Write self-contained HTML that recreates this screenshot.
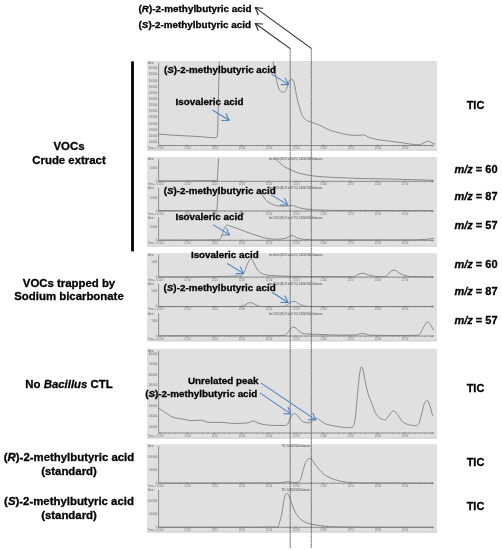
<!DOCTYPE html>
<html><head><meta charset="utf-8"><style>
html,body{margin:0;padding:0;background:#fff;}
body{width:502px;height:550px;overflow:hidden;}
svg{display:block;font-family:"Liberation Sans", sans-serif;will-change:transform;}
</style></head><body>
<svg width="502" height="550" viewBox="0 0 502 550">
<rect x="147" y="61" width="290" height="89.5" fill="#e0e0e0"/>
<rect x="147" y="149.5" width="290" height="1" fill="#cdcdcd"/>
<line x1="158.6" y1="63" x2="158.6" y2="145.5" stroke="#7a7a7a" stroke-width="0.8"/>
<line x1="158.6" y1="145.5" x2="434" y2="145.5" stroke="#8c8c8c" stroke-width="1.0"/>
<line x1="158.6" y1="145.9" x2="434" y2="145.9" stroke="#777" stroke-width="0.7" stroke-dasharray="0.8 4.64"/>
<line x1="160.2" y1="144.5" x2="160.2" y2="146.9" stroke="#777" stroke-width="0.6"/>
<line x1="187.4" y1="144.5" x2="187.4" y2="146.9" stroke="#777" stroke-width="0.6"/>
<line x1="214.6" y1="144.5" x2="214.6" y2="146.9" stroke="#777" stroke-width="0.6"/>
<line x1="241.8" y1="144.5" x2="241.8" y2="146.9" stroke="#777" stroke-width="0.6"/>
<line x1="269.0" y1="144.5" x2="269.0" y2="146.9" stroke="#777" stroke-width="0.6"/>
<line x1="296.2" y1="144.5" x2="296.2" y2="146.9" stroke="#777" stroke-width="0.6"/>
<line x1="323.4" y1="144.5" x2="323.4" y2="146.9" stroke="#777" stroke-width="0.6"/>
<line x1="350.6" y1="144.5" x2="350.6" y2="146.9" stroke="#777" stroke-width="0.6"/>
<line x1="377.8" y1="144.5" x2="377.8" y2="146.9" stroke="#777" stroke-width="0.6"/>
<line x1="405.0" y1="144.5" x2="405.0" y2="146.9" stroke="#777" stroke-width="0.6"/>
<line x1="432.2" y1="144.5" x2="432.2" y2="146.9" stroke="#777" stroke-width="0.6"/>
<text x="148" y="64.0" font-size="2.6" text-anchor="start" fill="#707070">Abun</text>
<text x="157.29999999999998" y="69.2" font-size="2.6" text-anchor="end" fill="#707070">340000</text>
<line x1="157.6" y1="68.3" x2="158.6" y2="68.3" stroke="#888" stroke-width="0.5"/>
<text x="157.29999999999998" y="75.35000000000001" font-size="2.6" text-anchor="end" fill="#707070">320000</text>
<line x1="157.6" y1="74.45" x2="158.6" y2="74.45" stroke="#888" stroke-width="0.5"/>
<text x="157.29999999999998" y="81.5" font-size="2.6" text-anchor="end" fill="#707070">300000</text>
<line x1="157.6" y1="80.6" x2="158.6" y2="80.6" stroke="#888" stroke-width="0.5"/>
<text x="157.29999999999998" y="87.65" font-size="2.6" text-anchor="end" fill="#707070">280000</text>
<line x1="157.6" y1="86.75" x2="158.6" y2="86.75" stroke="#888" stroke-width="0.5"/>
<text x="157.29999999999998" y="93.80000000000001" font-size="2.6" text-anchor="end" fill="#707070">260000</text>
<line x1="157.6" y1="92.9" x2="158.6" y2="92.9" stroke="#888" stroke-width="0.5"/>
<text x="157.29999999999998" y="99.95" font-size="2.6" text-anchor="end" fill="#707070">240000</text>
<line x1="157.6" y1="99.05" x2="158.6" y2="99.05" stroke="#888" stroke-width="0.5"/>
<text x="157.29999999999998" y="106.10000000000001" font-size="2.6" text-anchor="end" fill="#707070">220000</text>
<line x1="157.6" y1="105.2" x2="158.6" y2="105.2" stroke="#888" stroke-width="0.5"/>
<text x="157.29999999999998" y="112.25" font-size="2.6" text-anchor="end" fill="#707070">200000</text>
<line x1="157.6" y1="111.35" x2="158.6" y2="111.35" stroke="#888" stroke-width="0.5"/>
<text x="157.29999999999998" y="118.4" font-size="2.6" text-anchor="end" fill="#707070">180000</text>
<line x1="157.6" y1="117.5" x2="158.6" y2="117.5" stroke="#888" stroke-width="0.5"/>
<text x="157.29999999999998" y="124.55000000000001" font-size="2.6" text-anchor="end" fill="#707070">160000</text>
<line x1="157.6" y1="123.65" x2="158.6" y2="123.65" stroke="#888" stroke-width="0.5"/>
<text x="157.29999999999998" y="130.70000000000002" font-size="2.6" text-anchor="end" fill="#707070">140000</text>
<line x1="157.6" y1="129.8" x2="158.6" y2="129.8" stroke="#888" stroke-width="0.5"/>
<text x="157.29999999999998" y="136.85" font-size="2.6" text-anchor="end" fill="#707070">120000</text>
<line x1="157.6" y1="135.95" x2="158.6" y2="135.95" stroke="#888" stroke-width="0.5"/>
<text x="157.29999999999998" y="143.00000000000003" font-size="2.6" text-anchor="end" fill="#707070">100000</text>
<line x1="157.6" y1="142.10000000000002" x2="158.6" y2="142.10000000000002" stroke="#888" stroke-width="0.5"/>
<text x="147.6" y="149.4" font-size="2.6" text-anchor="start" fill="#707070">Time--&gt;</text>
<text x="160.2" y="149.4" font-size="2.6" text-anchor="middle" fill="#707070">11.00</text>
<text x="187.39999999999998" y="149.4" font-size="2.6" text-anchor="middle" fill="#707070">11.10</text>
<text x="214.6" y="149.4" font-size="2.6" text-anchor="middle" fill="#707070">11.20</text>
<text x="241.79999999999998" y="149.4" font-size="2.6" text-anchor="middle" fill="#707070">11.30</text>
<text x="269.0" y="149.4" font-size="2.6" text-anchor="middle" fill="#707070">11.40</text>
<text x="296.2" y="149.4" font-size="2.6" text-anchor="middle" fill="#707070">11.50</text>
<text x="323.4" y="149.4" font-size="2.6" text-anchor="middle" fill="#707070">11.60</text>
<text x="350.6" y="149.4" font-size="2.6" text-anchor="middle" fill="#707070">11.70</text>
<text x="377.79999999999995" y="149.4" font-size="2.6" text-anchor="middle" fill="#707070">11.80</text>
<text x="405.0" y="149.4" font-size="2.6" text-anchor="middle" fill="#707070">11.90</text>
<rect x="147" y="157" width="290" height="89.5" fill="#e0e0e0"/>
<rect x="147" y="245.5" width="290" height="1" fill="#cdcdcd"/>
<line x1="158.6" y1="159" x2="158.6" y2="181.3" stroke="#7a7a7a" stroke-width="0.8"/>
<line x1="158.6" y1="181.3" x2="434" y2="181.3" stroke="#8c8c8c" stroke-width="1.0"/>
<line x1="158.6" y1="181.70000000000002" x2="434" y2="181.70000000000002" stroke="#777" stroke-width="0.7" stroke-dasharray="0.8 4.64"/>
<line x1="160.2" y1="180.3" x2="160.2" y2="182.70000000000002" stroke="#777" stroke-width="0.6"/>
<line x1="187.4" y1="180.3" x2="187.4" y2="182.70000000000002" stroke="#777" stroke-width="0.6"/>
<line x1="214.6" y1="180.3" x2="214.6" y2="182.70000000000002" stroke="#777" stroke-width="0.6"/>
<line x1="241.8" y1="180.3" x2="241.8" y2="182.70000000000002" stroke="#777" stroke-width="0.6"/>
<line x1="269.0" y1="180.3" x2="269.0" y2="182.70000000000002" stroke="#777" stroke-width="0.6"/>
<line x1="296.2" y1="180.3" x2="296.2" y2="182.70000000000002" stroke="#777" stroke-width="0.6"/>
<line x1="323.4" y1="180.3" x2="323.4" y2="182.70000000000002" stroke="#777" stroke-width="0.6"/>
<line x1="350.6" y1="180.3" x2="350.6" y2="182.70000000000002" stroke="#777" stroke-width="0.6"/>
<line x1="377.8" y1="180.3" x2="377.8" y2="182.70000000000002" stroke="#777" stroke-width="0.6"/>
<line x1="405.0" y1="180.3" x2="405.0" y2="182.70000000000002" stroke="#777" stroke-width="0.6"/>
<line x1="432.2" y1="180.3" x2="432.2" y2="182.70000000000002" stroke="#777" stroke-width="0.6"/>
<text x="148" y="160.0" font-size="2.6" text-anchor="start" fill="#707070">Abun</text>
<text x="157.29999999999998" y="169.1" font-size="2.6" text-anchor="end" fill="#707070">50000</text>
<line x1="157.6" y1="168.2" x2="158.6" y2="168.2" stroke="#888" stroke-width="0.5"/>
<text x="157.29999999999998" y="181.9" font-size="2.6" text-anchor="end" fill="#707070">0</text>
<line x1="157.6" y1="181" x2="158.6" y2="181" stroke="#888" stroke-width="0.5"/>
<text x="147.6" y="185.20000000000002" font-size="2.6" text-anchor="start" fill="#707070">Time--&gt;</text>
<text x="160.2" y="185.20000000000002" font-size="2.6" text-anchor="middle" fill="#707070">11.00</text>
<text x="187.39999999999998" y="185.20000000000002" font-size="2.6" text-anchor="middle" fill="#707070">11.10</text>
<text x="214.6" y="185.20000000000002" font-size="2.6" text-anchor="middle" fill="#707070">11.20</text>
<text x="241.79999999999998" y="185.20000000000002" font-size="2.6" text-anchor="middle" fill="#707070">11.30</text>
<text x="269.0" y="185.20000000000002" font-size="2.6" text-anchor="middle" fill="#707070">11.40</text>
<text x="296.2" y="185.20000000000002" font-size="2.6" text-anchor="middle" fill="#707070">11.50</text>
<text x="323.4" y="185.20000000000002" font-size="2.6" text-anchor="middle" fill="#707070">11.60</text>
<text x="350.6" y="185.20000000000002" font-size="2.6" text-anchor="middle" fill="#707070">11.70</text>
<text x="377.79999999999995" y="185.20000000000002" font-size="2.6" text-anchor="middle" fill="#707070">11.80</text>
<text x="405.0" y="185.20000000000002" font-size="2.6" text-anchor="middle" fill="#707070">11.90</text>
<text x="269" y="160.1" font-size="3" fill="#3a3a3a" textLength="53.4" lengthAdjust="spacingAndGlyphs">Ion 60.00 (59.70 to 60.70): 1405070013.data.ms</text>
<line x1="158.6" y1="188" x2="158.6" y2="211" stroke="#7a7a7a" stroke-width="0.8"/>
<line x1="158.6" y1="211" x2="434" y2="211" stroke="#8c8c8c" stroke-width="1.0"/>
<line x1="158.6" y1="211.4" x2="434" y2="211.4" stroke="#777" stroke-width="0.7" stroke-dasharray="0.8 4.64"/>
<line x1="160.2" y1="210.0" x2="160.2" y2="212.4" stroke="#777" stroke-width="0.6"/>
<line x1="187.4" y1="210.0" x2="187.4" y2="212.4" stroke="#777" stroke-width="0.6"/>
<line x1="214.6" y1="210.0" x2="214.6" y2="212.4" stroke="#777" stroke-width="0.6"/>
<line x1="241.8" y1="210.0" x2="241.8" y2="212.4" stroke="#777" stroke-width="0.6"/>
<line x1="269.0" y1="210.0" x2="269.0" y2="212.4" stroke="#777" stroke-width="0.6"/>
<line x1="296.2" y1="210.0" x2="296.2" y2="212.4" stroke="#777" stroke-width="0.6"/>
<line x1="323.4" y1="210.0" x2="323.4" y2="212.4" stroke="#777" stroke-width="0.6"/>
<line x1="350.6" y1="210.0" x2="350.6" y2="212.4" stroke="#777" stroke-width="0.6"/>
<line x1="377.8" y1="210.0" x2="377.8" y2="212.4" stroke="#777" stroke-width="0.6"/>
<line x1="405.0" y1="210.0" x2="405.0" y2="212.4" stroke="#777" stroke-width="0.6"/>
<line x1="432.2" y1="210.0" x2="432.2" y2="212.4" stroke="#777" stroke-width="0.6"/>
<text x="148" y="189.0" font-size="2.6" text-anchor="start" fill="#707070">Abun</text>
<text x="157.29999999999998" y="198.5" font-size="2.6" text-anchor="end" fill="#707070">50000</text>
<line x1="157.6" y1="197.6" x2="158.6" y2="197.6" stroke="#888" stroke-width="0.5"/>
<text x="157.29999999999998" y="211.9" font-size="2.6" text-anchor="end" fill="#707070">0</text>
<line x1="157.6" y1="211" x2="158.6" y2="211" stroke="#888" stroke-width="0.5"/>
<text x="147.6" y="214.9" font-size="2.6" text-anchor="start" fill="#707070">Time--&gt;</text>
<text x="160.2" y="214.9" font-size="2.6" text-anchor="middle" fill="#707070">11.00</text>
<text x="187.39999999999998" y="214.9" font-size="2.6" text-anchor="middle" fill="#707070">11.10</text>
<text x="214.6" y="214.9" font-size="2.6" text-anchor="middle" fill="#707070">11.20</text>
<text x="241.79999999999998" y="214.9" font-size="2.6" text-anchor="middle" fill="#707070">11.30</text>
<text x="269.0" y="214.9" font-size="2.6" text-anchor="middle" fill="#707070">11.40</text>
<text x="296.2" y="214.9" font-size="2.6" text-anchor="middle" fill="#707070">11.50</text>
<text x="323.4" y="214.9" font-size="2.6" text-anchor="middle" fill="#707070">11.60</text>
<text x="350.6" y="214.9" font-size="2.6" text-anchor="middle" fill="#707070">11.70</text>
<text x="377.79999999999995" y="214.9" font-size="2.6" text-anchor="middle" fill="#707070">11.80</text>
<text x="405.0" y="214.9" font-size="2.6" text-anchor="middle" fill="#707070">11.90</text>
<text x="269" y="189.1" font-size="3" fill="#3a3a3a" textLength="53.4" lengthAdjust="spacingAndGlyphs">Ion 87.00 (86.70 to 87.70): 1405070013.data.ms</text>
<line x1="158.6" y1="217.5" x2="158.6" y2="240.3" stroke="#7a7a7a" stroke-width="0.8"/>
<line x1="158.6" y1="240.3" x2="434" y2="240.3" stroke="#8c8c8c" stroke-width="1.0"/>
<line x1="158.6" y1="240.70000000000002" x2="434" y2="240.70000000000002" stroke="#777" stroke-width="0.7" stroke-dasharray="0.8 4.64"/>
<line x1="160.2" y1="239.3" x2="160.2" y2="241.70000000000002" stroke="#777" stroke-width="0.6"/>
<line x1="187.4" y1="239.3" x2="187.4" y2="241.70000000000002" stroke="#777" stroke-width="0.6"/>
<line x1="214.6" y1="239.3" x2="214.6" y2="241.70000000000002" stroke="#777" stroke-width="0.6"/>
<line x1="241.8" y1="239.3" x2="241.8" y2="241.70000000000002" stroke="#777" stroke-width="0.6"/>
<line x1="269.0" y1="239.3" x2="269.0" y2="241.70000000000002" stroke="#777" stroke-width="0.6"/>
<line x1="296.2" y1="239.3" x2="296.2" y2="241.70000000000002" stroke="#777" stroke-width="0.6"/>
<line x1="323.4" y1="239.3" x2="323.4" y2="241.70000000000002" stroke="#777" stroke-width="0.6"/>
<line x1="350.6" y1="239.3" x2="350.6" y2="241.70000000000002" stroke="#777" stroke-width="0.6"/>
<line x1="377.8" y1="239.3" x2="377.8" y2="241.70000000000002" stroke="#777" stroke-width="0.6"/>
<line x1="405.0" y1="239.3" x2="405.0" y2="241.70000000000002" stroke="#777" stroke-width="0.6"/>
<line x1="432.2" y1="239.3" x2="432.2" y2="241.70000000000002" stroke="#777" stroke-width="0.6"/>
<text x="148" y="218.5" font-size="2.6" text-anchor="start" fill="#707070">Abun</text>
<text x="157.29999999999998" y="227.6" font-size="2.6" text-anchor="end" fill="#707070">50000</text>
<line x1="157.6" y1="226.7" x2="158.6" y2="226.7" stroke="#888" stroke-width="0.5"/>
<text x="157.29999999999998" y="241.20000000000002" font-size="2.6" text-anchor="end" fill="#707070">0</text>
<line x1="157.6" y1="240.3" x2="158.6" y2="240.3" stroke="#888" stroke-width="0.5"/>
<text x="147.6" y="244.20000000000002" font-size="2.6" text-anchor="start" fill="#707070">Time--&gt;</text>
<text x="160.2" y="244.20000000000002" font-size="2.6" text-anchor="middle" fill="#707070">11.00</text>
<text x="187.39999999999998" y="244.20000000000002" font-size="2.6" text-anchor="middle" fill="#707070">11.10</text>
<text x="214.6" y="244.20000000000002" font-size="2.6" text-anchor="middle" fill="#707070">11.20</text>
<text x="241.79999999999998" y="244.20000000000002" font-size="2.6" text-anchor="middle" fill="#707070">11.30</text>
<text x="269.0" y="244.20000000000002" font-size="2.6" text-anchor="middle" fill="#707070">11.40</text>
<text x="296.2" y="244.20000000000002" font-size="2.6" text-anchor="middle" fill="#707070">11.50</text>
<text x="323.4" y="244.20000000000002" font-size="2.6" text-anchor="middle" fill="#707070">11.60</text>
<text x="350.6" y="244.20000000000002" font-size="2.6" text-anchor="middle" fill="#707070">11.70</text>
<text x="377.79999999999995" y="244.20000000000002" font-size="2.6" text-anchor="middle" fill="#707070">11.80</text>
<text x="405.0" y="244.20000000000002" font-size="2.6" text-anchor="middle" fill="#707070">11.90</text>
<text x="269" y="218.6" font-size="3" fill="#3a3a3a" textLength="53.4" lengthAdjust="spacingAndGlyphs">Ion 57.00 (56.70 to 57.70): 1405070013.data.ms</text>
<rect x="147" y="253.1" width="290" height="88.20000000000002" fill="#e0e0e0"/>
<rect x="147" y="340.3" width="290" height="1" fill="#cdcdcd"/>
<line x1="158.6" y1="254.8" x2="158.6" y2="277.1" stroke="#7a7a7a" stroke-width="0.8"/>
<line x1="158.6" y1="277.1" x2="434" y2="277.1" stroke="#8c8c8c" stroke-width="1.0"/>
<line x1="158.6" y1="277.5" x2="434" y2="277.5" stroke="#777" stroke-width="0.7" stroke-dasharray="0.8 4.64"/>
<line x1="160.2" y1="276.1" x2="160.2" y2="278.5" stroke="#777" stroke-width="0.6"/>
<line x1="187.4" y1="276.1" x2="187.4" y2="278.5" stroke="#777" stroke-width="0.6"/>
<line x1="214.6" y1="276.1" x2="214.6" y2="278.5" stroke="#777" stroke-width="0.6"/>
<line x1="241.8" y1="276.1" x2="241.8" y2="278.5" stroke="#777" stroke-width="0.6"/>
<line x1="269.0" y1="276.1" x2="269.0" y2="278.5" stroke="#777" stroke-width="0.6"/>
<line x1="296.2" y1="276.1" x2="296.2" y2="278.5" stroke="#777" stroke-width="0.6"/>
<line x1="323.4" y1="276.1" x2="323.4" y2="278.5" stroke="#777" stroke-width="0.6"/>
<line x1="350.6" y1="276.1" x2="350.6" y2="278.5" stroke="#777" stroke-width="0.6"/>
<line x1="377.8" y1="276.1" x2="377.8" y2="278.5" stroke="#777" stroke-width="0.6"/>
<line x1="405.0" y1="276.1" x2="405.0" y2="278.5" stroke="#777" stroke-width="0.6"/>
<line x1="432.2" y1="276.1" x2="432.2" y2="278.5" stroke="#777" stroke-width="0.6"/>
<text x="148" y="255.8" font-size="2.6" text-anchor="start" fill="#707070">Abun</text>
<text x="157.29999999999998" y="262.5" font-size="2.6" text-anchor="end" fill="#707070">5000</text>
<line x1="157.6" y1="261.6" x2="158.6" y2="261.6" stroke="#888" stroke-width="0.5"/>
<text x="157.29999999999998" y="278.0" font-size="2.6" text-anchor="end" fill="#707070">0</text>
<line x1="157.6" y1="277.1" x2="158.6" y2="277.1" stroke="#888" stroke-width="0.5"/>
<text x="147.6" y="281.0" font-size="2.6" text-anchor="start" fill="#707070">Time--&gt;</text>
<text x="160.2" y="281.0" font-size="2.6" text-anchor="middle" fill="#707070">11.00</text>
<text x="187.39999999999998" y="281.0" font-size="2.6" text-anchor="middle" fill="#707070">11.10</text>
<text x="214.6" y="281.0" font-size="2.6" text-anchor="middle" fill="#707070">11.20</text>
<text x="241.79999999999998" y="281.0" font-size="2.6" text-anchor="middle" fill="#707070">11.30</text>
<text x="269.0" y="281.0" font-size="2.6" text-anchor="middle" fill="#707070">11.40</text>
<text x="296.2" y="281.0" font-size="2.6" text-anchor="middle" fill="#707070">11.50</text>
<text x="323.4" y="281.0" font-size="2.6" text-anchor="middle" fill="#707070">11.60</text>
<text x="350.6" y="281.0" font-size="2.6" text-anchor="middle" fill="#707070">11.70</text>
<text x="377.79999999999995" y="281.0" font-size="2.6" text-anchor="middle" fill="#707070">11.80</text>
<text x="405.0" y="281.0" font-size="2.6" text-anchor="middle" fill="#707070">11.90</text>
<text x="269" y="255.9" font-size="3" fill="#3a3a3a" textLength="53.4" lengthAdjust="spacingAndGlyphs">Ion 60.00 (59.70 to 60.70): 1405070012.data.ms</text>
<line x1="158.6" y1="284" x2="158.6" y2="306.5" stroke="#7a7a7a" stroke-width="0.8"/>
<line x1="158.6" y1="306.5" x2="434" y2="306.5" stroke="#8c8c8c" stroke-width="1.0"/>
<line x1="158.6" y1="306.9" x2="434" y2="306.9" stroke="#777" stroke-width="0.7" stroke-dasharray="0.8 4.64"/>
<line x1="160.2" y1="305.5" x2="160.2" y2="307.9" stroke="#777" stroke-width="0.6"/>
<line x1="187.4" y1="305.5" x2="187.4" y2="307.9" stroke="#777" stroke-width="0.6"/>
<line x1="214.6" y1="305.5" x2="214.6" y2="307.9" stroke="#777" stroke-width="0.6"/>
<line x1="241.8" y1="305.5" x2="241.8" y2="307.9" stroke="#777" stroke-width="0.6"/>
<line x1="269.0" y1="305.5" x2="269.0" y2="307.9" stroke="#777" stroke-width="0.6"/>
<line x1="296.2" y1="305.5" x2="296.2" y2="307.9" stroke="#777" stroke-width="0.6"/>
<line x1="323.4" y1="305.5" x2="323.4" y2="307.9" stroke="#777" stroke-width="0.6"/>
<line x1="350.6" y1="305.5" x2="350.6" y2="307.9" stroke="#777" stroke-width="0.6"/>
<line x1="377.8" y1="305.5" x2="377.8" y2="307.9" stroke="#777" stroke-width="0.6"/>
<line x1="405.0" y1="305.5" x2="405.0" y2="307.9" stroke="#777" stroke-width="0.6"/>
<line x1="432.2" y1="305.5" x2="432.2" y2="307.9" stroke="#777" stroke-width="0.6"/>
<text x="148" y="285.0" font-size="2.6" text-anchor="start" fill="#707070">Abun</text>
<text x="157.29999999999998" y="292.09999999999997" font-size="2.6" text-anchor="end" fill="#707070">5000</text>
<line x1="157.6" y1="291.2" x2="158.6" y2="291.2" stroke="#888" stroke-width="0.5"/>
<text x="157.29999999999998" y="307.4" font-size="2.6" text-anchor="end" fill="#707070">0</text>
<line x1="157.6" y1="306.5" x2="158.6" y2="306.5" stroke="#888" stroke-width="0.5"/>
<text x="147.6" y="310.4" font-size="2.6" text-anchor="start" fill="#707070">Time--&gt;</text>
<text x="160.2" y="310.4" font-size="2.6" text-anchor="middle" fill="#707070">11.00</text>
<text x="187.39999999999998" y="310.4" font-size="2.6" text-anchor="middle" fill="#707070">11.10</text>
<text x="214.6" y="310.4" font-size="2.6" text-anchor="middle" fill="#707070">11.20</text>
<text x="241.79999999999998" y="310.4" font-size="2.6" text-anchor="middle" fill="#707070">11.30</text>
<text x="269.0" y="310.4" font-size="2.6" text-anchor="middle" fill="#707070">11.40</text>
<text x="296.2" y="310.4" font-size="2.6" text-anchor="middle" fill="#707070">11.50</text>
<text x="323.4" y="310.4" font-size="2.6" text-anchor="middle" fill="#707070">11.60</text>
<text x="350.6" y="310.4" font-size="2.6" text-anchor="middle" fill="#707070">11.70</text>
<text x="377.79999999999995" y="310.4" font-size="2.6" text-anchor="middle" fill="#707070">11.80</text>
<text x="405.0" y="310.4" font-size="2.6" text-anchor="middle" fill="#707070">11.90</text>
<text x="269" y="285.1" font-size="3" fill="#3a3a3a" textLength="53.4" lengthAdjust="spacingAndGlyphs">Ion 87.00 (86.70 to 87.70): 1405070012.data.ms</text>
<line x1="158.6" y1="313.5" x2="158.6" y2="336" stroke="#7a7a7a" stroke-width="0.8"/>
<line x1="158.6" y1="336" x2="434" y2="336" stroke="#8c8c8c" stroke-width="1.0"/>
<line x1="158.6" y1="336.4" x2="434" y2="336.4" stroke="#777" stroke-width="0.7" stroke-dasharray="0.8 4.64"/>
<line x1="160.2" y1="335.0" x2="160.2" y2="337.4" stroke="#777" stroke-width="0.6"/>
<line x1="187.4" y1="335.0" x2="187.4" y2="337.4" stroke="#777" stroke-width="0.6"/>
<line x1="214.6" y1="335.0" x2="214.6" y2="337.4" stroke="#777" stroke-width="0.6"/>
<line x1="241.8" y1="335.0" x2="241.8" y2="337.4" stroke="#777" stroke-width="0.6"/>
<line x1="269.0" y1="335.0" x2="269.0" y2="337.4" stroke="#777" stroke-width="0.6"/>
<line x1="296.2" y1="335.0" x2="296.2" y2="337.4" stroke="#777" stroke-width="0.6"/>
<line x1="323.4" y1="335.0" x2="323.4" y2="337.4" stroke="#777" stroke-width="0.6"/>
<line x1="350.6" y1="335.0" x2="350.6" y2="337.4" stroke="#777" stroke-width="0.6"/>
<line x1="377.8" y1="335.0" x2="377.8" y2="337.4" stroke="#777" stroke-width="0.6"/>
<line x1="405.0" y1="335.0" x2="405.0" y2="337.4" stroke="#777" stroke-width="0.6"/>
<line x1="432.2" y1="335.0" x2="432.2" y2="337.4" stroke="#777" stroke-width="0.6"/>
<text x="148" y="314.5" font-size="2.6" text-anchor="start" fill="#707070">Abun</text>
<text x="157.29999999999998" y="321.5" font-size="2.6" text-anchor="end" fill="#707070">5000</text>
<line x1="157.6" y1="320.6" x2="158.6" y2="320.6" stroke="#888" stroke-width="0.5"/>
<text x="157.29999999999998" y="336.9" font-size="2.6" text-anchor="end" fill="#707070">0</text>
<line x1="157.6" y1="336" x2="158.6" y2="336" stroke="#888" stroke-width="0.5"/>
<text x="147.6" y="339.9" font-size="2.6" text-anchor="start" fill="#707070">Time--&gt;</text>
<text x="160.2" y="339.9" font-size="2.6" text-anchor="middle" fill="#707070">11.00</text>
<text x="187.39999999999998" y="339.9" font-size="2.6" text-anchor="middle" fill="#707070">11.10</text>
<text x="214.6" y="339.9" font-size="2.6" text-anchor="middle" fill="#707070">11.20</text>
<text x="241.79999999999998" y="339.9" font-size="2.6" text-anchor="middle" fill="#707070">11.30</text>
<text x="269.0" y="339.9" font-size="2.6" text-anchor="middle" fill="#707070">11.40</text>
<text x="296.2" y="339.9" font-size="2.6" text-anchor="middle" fill="#707070">11.50</text>
<text x="323.4" y="339.9" font-size="2.6" text-anchor="middle" fill="#707070">11.60</text>
<text x="350.6" y="339.9" font-size="2.6" text-anchor="middle" fill="#707070">11.70</text>
<text x="377.79999999999995" y="339.9" font-size="2.6" text-anchor="middle" fill="#707070">11.80</text>
<text x="405.0" y="339.9" font-size="2.6" text-anchor="middle" fill="#707070">11.90</text>
<text x="269" y="314.6" font-size="3" fill="#3a3a3a" textLength="53.4" lengthAdjust="spacingAndGlyphs">Ion 57.00 (56.70 to 57.70): 1405070012.data.ms</text>
<rect x="147" y="348.8" width="290" height="89.69999999999999" fill="#e0e0e0"/>
<rect x="147" y="437.5" width="290" height="1" fill="#cdcdcd"/>
<line x1="158.6" y1="350.8" x2="158.6" y2="433" stroke="#7a7a7a" stroke-width="0.8"/>
<line x1="158.6" y1="433" x2="434" y2="433" stroke="#8c8c8c" stroke-width="1.0"/>
<line x1="158.6" y1="433.4" x2="434" y2="433.4" stroke="#777" stroke-width="0.7" stroke-dasharray="0.8 4.64"/>
<line x1="160.2" y1="432.0" x2="160.2" y2="434.4" stroke="#777" stroke-width="0.6"/>
<line x1="187.4" y1="432.0" x2="187.4" y2="434.4" stroke="#777" stroke-width="0.6"/>
<line x1="214.6" y1="432.0" x2="214.6" y2="434.4" stroke="#777" stroke-width="0.6"/>
<line x1="241.8" y1="432.0" x2="241.8" y2="434.4" stroke="#777" stroke-width="0.6"/>
<line x1="269.0" y1="432.0" x2="269.0" y2="434.4" stroke="#777" stroke-width="0.6"/>
<line x1="296.2" y1="432.0" x2="296.2" y2="434.4" stroke="#777" stroke-width="0.6"/>
<line x1="323.4" y1="432.0" x2="323.4" y2="434.4" stroke="#777" stroke-width="0.6"/>
<line x1="350.6" y1="432.0" x2="350.6" y2="434.4" stroke="#777" stroke-width="0.6"/>
<line x1="377.8" y1="432.0" x2="377.8" y2="434.4" stroke="#777" stroke-width="0.6"/>
<line x1="405.0" y1="432.0" x2="405.0" y2="434.4" stroke="#777" stroke-width="0.6"/>
<line x1="432.2" y1="432.0" x2="432.2" y2="434.4" stroke="#777" stroke-width="0.6"/>
<text x="148" y="351.8" font-size="2.6" text-anchor="start" fill="#707070">Abun</text>
<text x="157.29999999999998" y="354.7" font-size="2.6" text-anchor="end" fill="#707070">800000</text>
<line x1="157.6" y1="353.8" x2="158.6" y2="353.8" stroke="#888" stroke-width="0.5"/>
<text x="157.29999999999998" y="365.15" font-size="2.6" text-anchor="end" fill="#707070">700000</text>
<line x1="157.6" y1="364.25" x2="158.6" y2="364.25" stroke="#888" stroke-width="0.5"/>
<text x="157.29999999999998" y="375.59999999999997" font-size="2.6" text-anchor="end" fill="#707070">600000</text>
<line x1="157.6" y1="374.7" x2="158.6" y2="374.7" stroke="#888" stroke-width="0.5"/>
<text x="157.29999999999998" y="386.05" font-size="2.6" text-anchor="end" fill="#707070">500000</text>
<line x1="157.6" y1="385.15000000000003" x2="158.6" y2="385.15000000000003" stroke="#888" stroke-width="0.5"/>
<text x="157.29999999999998" y="396.5" font-size="2.6" text-anchor="end" fill="#707070">400000</text>
<line x1="157.6" y1="395.6" x2="158.6" y2="395.6" stroke="#888" stroke-width="0.5"/>
<text x="157.29999999999998" y="406.95" font-size="2.6" text-anchor="end" fill="#707070">300000</text>
<line x1="157.6" y1="406.05" x2="158.6" y2="406.05" stroke="#888" stroke-width="0.5"/>
<text x="157.29999999999998" y="417.4" font-size="2.6" text-anchor="end" fill="#707070">200000</text>
<line x1="157.6" y1="416.5" x2="158.6" y2="416.5" stroke="#888" stroke-width="0.5"/>
<text x="157.29999999999998" y="427.84999999999997" font-size="2.6" text-anchor="end" fill="#707070">100000</text>
<line x1="157.6" y1="426.95" x2="158.6" y2="426.95" stroke="#888" stroke-width="0.5"/>
<text x="147.6" y="436.9" font-size="2.6" text-anchor="start" fill="#707070">Time--&gt;</text>
<text x="160.2" y="436.9" font-size="2.6" text-anchor="middle" fill="#707070">11.00</text>
<text x="187.39999999999998" y="436.9" font-size="2.6" text-anchor="middle" fill="#707070">11.10</text>
<text x="214.6" y="436.9" font-size="2.6" text-anchor="middle" fill="#707070">11.20</text>
<text x="241.79999999999998" y="436.9" font-size="2.6" text-anchor="middle" fill="#707070">11.30</text>
<text x="269.0" y="436.9" font-size="2.6" text-anchor="middle" fill="#707070">11.40</text>
<text x="296.2" y="436.9" font-size="2.6" text-anchor="middle" fill="#707070">11.50</text>
<text x="323.4" y="436.9" font-size="2.6" text-anchor="middle" fill="#707070">11.60</text>
<text x="350.6" y="436.9" font-size="2.6" text-anchor="middle" fill="#707070">11.70</text>
<text x="377.79999999999995" y="436.9" font-size="2.6" text-anchor="middle" fill="#707070">11.80</text>
<text x="405.0" y="436.9" font-size="2.6" text-anchor="middle" fill="#707070">11.90</text>
<rect x="147" y="444.2" width="290" height="88.30000000000001" fill="#e0e0e0"/>
<rect x="147" y="531.5" width="290" height="1" fill="#cdcdcd"/>
<line x1="158.6" y1="446.2" x2="158.6" y2="483.2" stroke="#7a7a7a" stroke-width="0.8"/>
<line x1="158.6" y1="483.2" x2="434" y2="483.2" stroke="#8c8c8c" stroke-width="1.0"/>
<line x1="158.6" y1="483.59999999999997" x2="434" y2="483.59999999999997" stroke="#777" stroke-width="0.7" stroke-dasharray="0.8 4.64"/>
<line x1="160.2" y1="482.2" x2="160.2" y2="484.59999999999997" stroke="#777" stroke-width="0.6"/>
<line x1="187.4" y1="482.2" x2="187.4" y2="484.59999999999997" stroke="#777" stroke-width="0.6"/>
<line x1="214.6" y1="482.2" x2="214.6" y2="484.59999999999997" stroke="#777" stroke-width="0.6"/>
<line x1="241.8" y1="482.2" x2="241.8" y2="484.59999999999997" stroke="#777" stroke-width="0.6"/>
<line x1="269.0" y1="482.2" x2="269.0" y2="484.59999999999997" stroke="#777" stroke-width="0.6"/>
<line x1="296.2" y1="482.2" x2="296.2" y2="484.59999999999997" stroke="#777" stroke-width="0.6"/>
<line x1="323.4" y1="482.2" x2="323.4" y2="484.59999999999997" stroke="#777" stroke-width="0.6"/>
<line x1="350.6" y1="482.2" x2="350.6" y2="484.59999999999997" stroke="#777" stroke-width="0.6"/>
<line x1="377.8" y1="482.2" x2="377.8" y2="484.59999999999997" stroke="#777" stroke-width="0.6"/>
<line x1="405.0" y1="482.2" x2="405.0" y2="484.59999999999997" stroke="#777" stroke-width="0.6"/>
<line x1="432.2" y1="482.2" x2="432.2" y2="484.59999999999997" stroke="#777" stroke-width="0.6"/>
<text x="148" y="447.2" font-size="2.6" text-anchor="start" fill="#707070">Abun</text>
<text x="157.29999999999998" y="457.9" font-size="2.6" text-anchor="end" fill="#707070">1000000</text>
<line x1="157.6" y1="457" x2="158.6" y2="457" stroke="#888" stroke-width="0.5"/>
<text x="157.29999999999998" y="471.0" font-size="2.6" text-anchor="end" fill="#707070">500000</text>
<line x1="157.6" y1="470.1" x2="158.6" y2="470.1" stroke="#888" stroke-width="0.5"/>
<text x="157.29999999999998" y="484.09999999999997" font-size="2.6" text-anchor="end" fill="#707070">0</text>
<line x1="157.6" y1="483.2" x2="158.6" y2="483.2" stroke="#888" stroke-width="0.5"/>
<text x="147.6" y="487.09999999999997" font-size="2.6" text-anchor="start" fill="#707070">Time--&gt;</text>
<text x="160.2" y="487.09999999999997" font-size="2.6" text-anchor="middle" fill="#707070">11.00</text>
<text x="187.39999999999998" y="487.09999999999997" font-size="2.6" text-anchor="middle" fill="#707070">11.10</text>
<text x="214.6" y="487.09999999999997" font-size="2.6" text-anchor="middle" fill="#707070">11.20</text>
<text x="241.79999999999998" y="487.09999999999997" font-size="2.6" text-anchor="middle" fill="#707070">11.30</text>
<text x="269.0" y="487.09999999999997" font-size="2.6" text-anchor="middle" fill="#707070">11.40</text>
<text x="296.2" y="487.09999999999997" font-size="2.6" text-anchor="middle" fill="#707070">11.50</text>
<text x="323.4" y="487.09999999999997" font-size="2.6" text-anchor="middle" fill="#707070">11.60</text>
<text x="350.6" y="487.09999999999997" font-size="2.6" text-anchor="middle" fill="#707070">11.70</text>
<text x="377.79999999999995" y="487.09999999999997" font-size="2.6" text-anchor="middle" fill="#707070">11.80</text>
<text x="405.0" y="487.09999999999997" font-size="2.6" text-anchor="middle" fill="#707070">11.90</text>
<text x="281.5" y="447.3" font-size="3" fill="#3a3a3a" textLength="28.9" lengthAdjust="spacingAndGlyphs">TIC: 1405070001.data.ms</text>
<line x1="158.6" y1="489.8" x2="158.6" y2="527.3" stroke="#7a7a7a" stroke-width="0.8"/>
<line x1="158.6" y1="527.3" x2="434" y2="527.3" stroke="#8c8c8c" stroke-width="1.0"/>
<line x1="158.6" y1="527.6999999999999" x2="434" y2="527.6999999999999" stroke="#777" stroke-width="0.7" stroke-dasharray="0.8 4.64"/>
<line x1="160.2" y1="526.3" x2="160.2" y2="528.6999999999999" stroke="#777" stroke-width="0.6"/>
<line x1="187.4" y1="526.3" x2="187.4" y2="528.6999999999999" stroke="#777" stroke-width="0.6"/>
<line x1="214.6" y1="526.3" x2="214.6" y2="528.6999999999999" stroke="#777" stroke-width="0.6"/>
<line x1="241.8" y1="526.3" x2="241.8" y2="528.6999999999999" stroke="#777" stroke-width="0.6"/>
<line x1="269.0" y1="526.3" x2="269.0" y2="528.6999999999999" stroke="#777" stroke-width="0.6"/>
<line x1="296.2" y1="526.3" x2="296.2" y2="528.6999999999999" stroke="#777" stroke-width="0.6"/>
<line x1="323.4" y1="526.3" x2="323.4" y2="528.6999999999999" stroke="#777" stroke-width="0.6"/>
<line x1="350.6" y1="526.3" x2="350.6" y2="528.6999999999999" stroke="#777" stroke-width="0.6"/>
<line x1="377.8" y1="526.3" x2="377.8" y2="528.6999999999999" stroke="#777" stroke-width="0.6"/>
<line x1="405.0" y1="526.3" x2="405.0" y2="528.6999999999999" stroke="#777" stroke-width="0.6"/>
<line x1="432.2" y1="526.3" x2="432.2" y2="528.6999999999999" stroke="#777" stroke-width="0.6"/>
<text x="148" y="490.8" font-size="2.6" text-anchor="start" fill="#707070">Abun</text>
<text x="157.29999999999998" y="502.4" font-size="2.6" text-anchor="end" fill="#707070">1000000</text>
<line x1="157.6" y1="501.5" x2="158.6" y2="501.5" stroke="#888" stroke-width="0.5"/>
<text x="157.29999999999998" y="515.3" font-size="2.6" text-anchor="end" fill="#707070">500000</text>
<line x1="157.6" y1="514.4" x2="158.6" y2="514.4" stroke="#888" stroke-width="0.5"/>
<text x="157.29999999999998" y="528.1999999999999" font-size="2.6" text-anchor="end" fill="#707070">0</text>
<line x1="157.6" y1="527.3" x2="158.6" y2="527.3" stroke="#888" stroke-width="0.5"/>
<text x="147.6" y="531.1999999999999" font-size="2.6" text-anchor="start" fill="#707070">Time--&gt;</text>
<text x="160.2" y="531.1999999999999" font-size="2.6" text-anchor="middle" fill="#707070">11.00</text>
<text x="187.39999999999998" y="531.1999999999999" font-size="2.6" text-anchor="middle" fill="#707070">11.10</text>
<text x="214.6" y="531.1999999999999" font-size="2.6" text-anchor="middle" fill="#707070">11.20</text>
<text x="241.79999999999998" y="531.1999999999999" font-size="2.6" text-anchor="middle" fill="#707070">11.30</text>
<text x="269.0" y="531.1999999999999" font-size="2.6" text-anchor="middle" fill="#707070">11.40</text>
<text x="296.2" y="531.1999999999999" font-size="2.6" text-anchor="middle" fill="#707070">11.50</text>
<text x="323.4" y="531.1999999999999" font-size="2.6" text-anchor="middle" fill="#707070">11.60</text>
<text x="350.6" y="531.1999999999999" font-size="2.6" text-anchor="middle" fill="#707070">11.70</text>
<text x="377.79999999999995" y="531.1999999999999" font-size="2.6" text-anchor="middle" fill="#707070">11.80</text>
<text x="405.0" y="531.1999999999999" font-size="2.6" text-anchor="middle" fill="#707070">11.90</text>
<text x="281.5" y="490.90000000000003" font-size="3" fill="#3a3a3a" textLength="28.9" lengthAdjust="spacingAndGlyphs">TIC: 1405070002.data.ms</text>
<path d="M158.5,134 C162.63,134.37 166.77,134.83 170.90,135.10 C176.23,135.45 181.57,135.62 186.90,135.90 C191.67,136.15 196.43,136.38 201.20,136.70 C205.47,136.99 209.73,137.80 214.00,137.80 C214.87,137.80 215.73,137.66 216.60,137.30 C216.93,137.16 217.27,135.10 217.60,134.00 M217.6,134 L219.3,61.5 M273.2,61.5 L273.5,68 M273.5,68 C274.13,70.30 274.77,72.39 275.40,74.90 C276.23,78.20 277.07,83.52 277.90,85.90 C278.70,88.19 279.50,90.31 280.30,91.00 C281.17,91.75 282.03,92.40 282.90,92.40 C283.70,92.40 284.50,91.87 285.30,91.20 C285.83,90.75 286.37,89.20 286.90,87.90 C287.60,86.19 288.30,82.53 289.00,81.50 C289.80,80.32 290.60,79.20 291.40,79.20 C292.03,79.20 292.67,79.75 293.30,80.50 C293.80,81.09 294.30,83.70 294.80,85.90 C295.33,88.25 295.87,92.45 296.40,95.00 C297.37,99.62 298.33,103.31 299.30,106.60 C300.27,109.89 301.23,113.52 302.20,115.20 C303.67,117.75 305.13,119.54 306.60,120.40 C308.33,121.42 310.07,121.78 311.80,122.40 C313.90,123.15 316.00,123.66 318.10,124.50 C320.03,125.28 321.97,126.45 323.90,127.40 C325.83,128.35 327.77,129.52 329.70,130.20 C332.57,131.21 335.43,131.78 338.30,132.50 C341.67,133.35 345.03,134.59 348.40,134.90 C351.30,135.16 354.20,135.40 357.10,135.40 C359.03,135.40 360.97,134.90 362.90,134.90 C365.30,134.90 367.70,137.09 370.10,137.80 C373.00,138.66 375.90,139.33 378.80,139.80 C382.63,140.42 386.47,140.72 390.30,141.20 C394.17,141.68 398.03,142.15 401.90,142.70 C405.73,143.24 409.57,144.22 413.40,144.50 C415.33,144.64 417.27,144.80 419.20,144.80 C420.93,144.80 422.67,143.36 424.40,142.70 C425.77,142.18 427.13,141.20 428.50,141.20 C430.03,141.20 431.57,142.86 433.10,143.50 C433.73,143.76 434.37,143.97 435.00,144.20" fill="none" stroke="#7a7a7a" stroke-width="0.85" stroke-linejoin="round"/>
<path d="M158.7,181 L217.3,180.6 L218.5,158.5 M274.5,158 C275.97,159.33 277.43,160.72 278.90,162.00 C280.90,163.74 282.90,165.82 284.90,167.00 C286.57,167.98 288.23,168.53 289.90,169.30 C292.20,170.36 294.50,171.76 296.80,172.50 C300.13,173.58 303.47,174.32 306.80,174.90 C310.77,175.59 314.73,176.16 318.70,176.50 C324.03,176.96 329.37,177.24 334.70,177.50 C341.33,177.83 347.97,178.10 354.60,178.30 C369.73,178.75 384.87,178.91 400.00,179.30 C411.20,179.59 422.40,179.97 433.60,180.30" fill="none" stroke="#7a7a7a" stroke-width="0.85" stroke-linejoin="round"/>
<path d="M158.7,210.6 L216.8,210.5 L218.4,188.5 M259.5,190.5 C260.33,191.67 261.17,192.74 262.00,194.00 C263.00,195.52 264.00,197.82 265.00,199.00 C266.30,200.54 267.60,201.68 268.90,202.50 C270.57,203.56 272.23,204.42 273.90,204.90 C275.90,205.47 277.90,206.10 279.90,206.10 C281.90,206.10 283.90,206.10 285.90,206.10 C287.20,206.10 288.50,205.88 289.80,205.70 C290.47,205.61 291.13,205.30 291.80,205.30 C292.80,205.30 293.80,205.80 294.80,206.10 C296.47,206.60 298.13,207.50 299.80,207.90 C302.47,208.55 305.13,209.00 307.80,209.30 C311.10,209.67 314.40,209.99 317.70,210.10 C323.03,210.27 328.37,210.38 333.70,210.40 C366.80,210.55 399.90,210.53 433.00,210.60" fill="none" stroke="#7a7a7a" stroke-width="0.85" stroke-linejoin="round"/>
<path d="M158.7,240.1 C172.47,240.07 186.23,240.05 200.00,240.00 C206.33,239.98 212.67,239.99 219.00,239.90 C219.67,239.89 220.33,238.92 221.00,237.90 C221.63,236.93 222.27,233.65 222.90,231.90 C223.57,230.06 224.23,227.95 224.90,227.00 C225.57,226.05 226.23,225.00 226.90,225.00 C227.90,225.00 228.90,225.67 229.90,226.00 C231.90,226.67 233.90,227.30 235.90,228.00 C238.57,228.94 241.23,230.01 243.90,231.00 C246.53,231.98 249.17,232.99 251.80,233.90 C254.47,234.82 257.13,235.75 259.80,236.50 C262.47,237.25 265.13,238.17 267.80,238.50 C271.10,238.91 274.40,239.30 277.70,239.30 C280.03,239.30 282.37,238.94 284.70,238.50 C286.03,238.25 287.37,237.48 288.70,236.90 C289.70,236.47 290.70,235.50 291.70,235.50 C292.70,235.50 293.70,236.10 294.70,236.50 C296.00,237.02 297.30,238.19 298.60,238.50 C300.93,239.05 303.27,239.38 305.60,239.50 C310.40,239.74 315.20,239.90 320.00,239.90 C350.00,239.90 380.00,239.90 410.00,239.90 C415.40,239.90 420.80,239.64 426.20,239.30 C428.73,239.14 431.27,238.57 433.80,238.20" fill="none" stroke="#7a7a7a" stroke-width="0.85" stroke-linejoin="round"/>
<path d="M158.7,276.9 C172.47,276.87 186.23,276.86 200.00,276.80 C213.33,276.74 226.67,276.69 240.00,275.90 C241.30,275.82 242.60,274.52 243.90,272.90 C244.57,272.07 245.23,269.55 245.90,267.90 C246.57,266.25 247.23,264.36 247.90,263.00 C248.57,261.64 249.23,260.14 249.90,259.50 C250.23,259.18 250.57,258.80 250.90,258.80 C251.40,258.80 251.90,259.44 252.40,260.00 C253.07,260.75 253.73,262.68 254.40,264.00 C255.23,265.65 256.07,267.67 256.90,268.90 C257.90,270.37 258.90,271.69 259.90,272.40 C261.23,273.35 262.57,274.05 263.90,274.40 C265.87,274.91 267.83,275.22 269.80,275.40 C272.47,275.65 275.13,275.79 277.80,275.90 C285.20,276.20 292.60,276.45 300.00,276.50 C318.07,276.63 336.13,276.70 354.20,276.70 C355.37,276.70 356.53,275.06 357.70,274.60 C359.33,273.96 360.97,273.20 362.60,273.20 C363.97,273.20 365.33,274.00 366.70,274.40 C368.57,274.94 370.43,275.71 372.30,276.00 C374.20,276.29 376.10,276.60 378.00,276.60 C380.53,276.60 383.07,276.60 385.60,276.60 C386.73,276.60 387.87,274.22 389.00,273.20 C389.93,272.36 390.87,271.42 391.80,270.90 C392.50,270.51 393.20,270.00 393.90,270.00 C394.83,270.00 395.77,270.70 396.70,271.20 C397.87,271.82 399.03,273.11 400.20,273.70 C401.60,274.40 403.00,274.91 404.40,275.30 C406.27,275.82 408.13,276.44 410.00,276.50 C417.67,276.73 425.33,276.70 433.00,276.80" fill="none" stroke="#7a7a7a" stroke-width="0.85" stroke-linejoin="round"/>
<path d="M158.7,306.6 C172.47,306.60 186.23,306.60 200.00,306.60 C212.67,306.60 225.33,306.60 238.00,306.60 C239.50,306.60 241.00,306.38 242.50,306.10 C243.73,305.87 244.97,304.89 246.20,304.30 C247.47,303.69 248.73,302.50 250.00,302.50 C251.23,302.50 252.47,303.23 253.70,303.70 C255.43,304.35 257.17,305.82 258.90,306.10 C260.60,306.37 262.30,306.60 264.00,306.60 C270.00,306.60 276.00,306.58 282.00,306.50 C283.27,306.48 284.53,306.29 285.80,306.00 C286.80,305.77 287.80,304.40 288.80,303.70 C290.03,302.83 291.27,301.30 292.50,301.30 C293.50,301.30 294.50,301.49 295.50,301.70 C296.73,301.96 297.97,303.42 299.20,304.00 C301.20,304.94 303.20,305.99 305.20,306.20 C307.47,306.43 309.73,306.60 312.00,306.60 C352.33,306.60 392.67,306.60 433.00,306.60" fill="none" stroke="#7a7a7a" stroke-width="0.85" stroke-linejoin="round"/>
<path d="M158.7,335.8 C172.47,335.77 186.23,335.72 200.00,335.70 C226.67,335.65 253.33,335.69 280.00,335.60 C281.67,335.59 283.33,335.50 285.00,335.30 C286.33,335.14 287.67,332.44 289.00,331.00 C290.17,329.74 291.33,327.20 292.50,327.20 C293.30,327.20 294.10,327.39 294.90,327.60 C296.23,327.95 297.57,330.04 298.90,331.00 C300.23,331.96 301.57,333.26 302.90,333.50 C304.90,333.86 306.90,334.00 308.90,334.10 C312.20,334.26 315.50,334.29 318.80,334.40 C325.87,334.63 332.93,335.20 340.00,335.20 C345.33,335.20 350.67,335.16 356.00,335.00 C357.17,334.97 358.33,334.24 359.50,334.00 C360.53,333.79 361.57,333.50 362.60,333.50 C363.73,333.50 364.87,333.77 366.00,334.00 C367.17,334.24 368.33,335.17 369.50,335.20 C379.67,335.46 389.83,335.50 400.00,335.50 C405.00,335.50 410.00,335.44 415.00,335.30 C416.10,335.27 417.20,335.19 418.30,335.00 C418.97,334.88 419.63,334.23 420.30,333.50 C420.97,332.77 421.63,330.78 422.30,329.50 C423.10,327.97 423.90,326.31 424.70,325.10 C425.37,324.09 426.03,322.76 426.70,322.50 C427.10,322.34 427.50,322.20 427.90,322.20 C428.43,322.20 428.97,322.79 429.50,323.30 C430.17,323.94 430.83,325.64 431.50,326.70 C432.30,327.98 433.10,329.10 433.90,330.30" fill="none" stroke="#7a7a7a" stroke-width="0.85" stroke-linejoin="round"/>
<path d="M158.7,408.1 C160.90,409.57 163.10,411.13 165.30,412.50 C168.23,414.32 171.17,416.83 174.10,417.60 C177.03,418.37 179.97,418.60 182.90,419.10 C185.80,419.60 188.70,420.60 191.60,420.60 C194.53,420.60 197.47,420.20 200.40,420.20 C203.33,420.20 206.27,422.40 209.20,422.40 C213.57,422.40 217.93,422.40 222.30,422.40 C225.97,422.40 229.63,423.50 233.30,423.50 C237.67,423.50 242.03,423.32 246.40,423.00 C247.60,422.91 248.80,422.63 250.00,422.30 C251.00,422.02 252.00,420.90 253.00,420.90 C254.67,420.90 256.33,422.37 258.00,422.90 C260.63,423.73 263.27,424.64 265.90,424.90 C269.23,425.23 272.57,425.50 275.90,425.50 C278.90,425.50 281.90,425.50 284.90,425.50 C285.87,425.50 286.83,424.81 287.80,423.90 C288.47,423.27 289.13,420.24 289.80,418.90 C290.60,417.29 291.40,415.56 292.20,414.90 C293.07,414.19 293.93,413.50 294.80,413.50 C295.80,413.50 296.80,414.93 297.80,415.90 C299.13,417.19 300.47,420.17 301.80,420.90 C303.80,421.99 305.80,422.90 307.80,422.90 C308.80,422.90 309.80,422.64 310.80,422.30 C311.77,421.97 312.73,419.23 313.70,418.90 C314.70,418.56 315.70,418.30 316.70,418.30 C318.03,418.30 319.37,420.07 320.70,420.90 C322.37,421.94 324.03,423.29 325.70,423.90 C328.37,424.87 331.03,425.41 333.70,425.90 C337.00,426.50 340.30,427.02 343.60,427.30 C345.73,427.48 347.87,427.70 350.00,427.70 C351.00,427.70 352.00,427.34 353.00,426.70 C353.67,426.27 354.33,423.22 355.00,419.80 C355.67,416.38 356.33,406.62 357.00,399.80 C357.63,393.32 358.27,385.14 358.90,379.90 C359.40,375.76 359.90,371.41 360.40,369.50 C360.70,368.35 361.00,367.00 361.30,367.00 C361.63,367.00 361.97,367.21 362.30,367.50 C362.50,367.68 362.70,368.36 362.90,369.00 C363.57,371.14 364.23,376.66 364.90,379.90 C365.90,384.76 366.90,389.52 367.90,392.90 C369.23,397.41 370.57,400.32 371.90,403.80 C373.23,407.28 374.57,411.73 375.90,413.80 C377.20,415.82 378.50,417.54 379.80,418.20 C381.47,419.05 383.13,419.80 384.80,419.80 C386.13,419.80 387.47,417.19 388.80,415.80 C390.33,414.20 391.87,410.80 393.40,410.80 C394.87,410.80 396.33,413.18 397.80,414.80 C399.43,416.61 401.07,420.60 402.70,421.80 C404.70,423.27 406.70,424.25 408.70,424.70 C411.03,425.22 413.37,425.70 415.70,425.70 C416.70,425.70 417.70,424.81 418.70,423.70 C419.70,422.59 420.70,417.27 421.70,413.80 C422.70,410.33 423.70,404.39 424.70,402.80 C425.47,401.58 426.23,400.40 427.00,400.40 C427.87,400.40 428.73,402.81 429.60,404.80 C430.60,407.10 431.60,412.13 432.60,415.80" fill="none" stroke="#7a7a7a" stroke-width="0.85" stroke-linejoin="round"/>
<path d="M158.7,483.1 C189.13,483.07 219.57,483.05 250.00,483.00 C260.00,482.98 270.00,482.98 280.00,482.90 C282.60,482.88 285.20,481.60 287.80,481.60 C290.20,481.60 292.60,482.70 295.00,482.70 C296.17,482.70 297.33,482.53 298.50,482.20 C299.17,482.01 299.83,480.79 300.50,479.50 C301.33,477.89 302.17,473.23 303.00,470.50 C303.90,467.55 304.80,464.17 305.70,462.40 C306.47,460.90 307.23,459.40 308.00,459.00 C308.73,458.62 309.47,458.30 310.20,458.30 C310.73,458.30 311.27,458.90 311.80,459.40 C312.47,460.02 313.13,461.45 313.80,462.40 C315.60,464.96 317.40,467.66 319.20,469.60 C321.57,472.14 323.93,474.50 326.30,475.90 C329.30,477.67 332.30,478.93 335.30,479.80 C338.87,480.83 342.43,481.77 346.00,482.10 C350.67,482.53 355.33,482.87 360.00,482.90 C384.33,483.06 408.67,483.03 433.00,483.10" fill="none" stroke="#7a7a7a" stroke-width="0.85" stroke-linejoin="round"/>
<path d="M158.7,527.3 C189.13,527.27 219.57,527.26 250.00,527.20 C258.83,527.18 267.67,527.19 276.50,527.10 C276.97,527.10 277.43,527.02 277.90,526.90 C278.43,526.76 278.97,524.15 279.50,522.50 C280.17,520.43 280.83,518.26 281.50,515.30 C282.40,511.31 283.30,503.01 284.20,499.20 C284.67,497.22 285.13,494.98 285.60,494.40 C286.03,493.86 286.47,493.40 286.90,493.40 C287.33,493.40 287.77,494.06 288.20,494.60 C288.67,495.19 289.13,496.34 289.60,497.40 C291.10,500.79 292.60,506.92 294.10,509.90 C295.87,513.41 297.63,516.33 299.40,518.00 C301.80,520.27 304.20,521.98 306.60,522.80 C310.80,524.23 315.00,525.00 319.20,525.50 C325.13,526.20 331.07,526.76 337.00,526.90 C344.67,527.08 352.33,527.18 360.00,527.20 C384.33,527.27 408.67,527.27 433.00,527.30" fill="none" stroke="#7a7a7a" stroke-width="0.85" stroke-linejoin="round"/>
<path d="M255.3,7.6 L311.3,48.4" fill="none" stroke="#2a2a2a" stroke-width="1.1"/>
<path d="M255.3,23.5 L290.2,48.6" fill="none" stroke="#2a2a2a" stroke-width="1.1"/>
<path d="M311.3,48.4 L311.3,548" fill="none" stroke="#555" stroke-width="0.9" stroke-dasharray="1.6 0.5"/>
<path d="M290.2,48.6 L290.2,548" fill="none" stroke="#555" stroke-width="0.9" stroke-dasharray="1.6 0.5"/>
<polyline points="262.68,8.19 255.3,7.6 258.12,14.44" fill="none" stroke="#2a2a2a" stroke-width="1.1" stroke-linecap="round" stroke-linejoin="miter"/>
<polyline points="262.68,24.04 255.3,23.5 258.16,30.32" fill="none" stroke="#2a2a2a" stroke-width="1.1" stroke-linecap="round" stroke-linejoin="miter"/>
<line x1="212.4" y1="110" x2="229.1" y2="120.3" stroke="#4f82c4" stroke-width="1.1"/>
<polyline points="221.90,120.50 229.1,120.3 226.05,113.78" fill="none" stroke="#4f82c4" stroke-width="1.1" stroke-linecap="round" stroke-linejoin="miter"/>
<line x1="271.4" y1="73.9" x2="288.4" y2="84.4" stroke="#4f82c4" stroke-width="1.1"/>
<polyline points="281.20,84.59 288.4,84.4 285.35,77.88" fill="none" stroke="#4f82c4" stroke-width="1.1" stroke-linecap="round" stroke-linejoin="miter"/>
<line x1="270.9" y1="194.6" x2="287.8" y2="204.9" stroke="#4f82c4" stroke-width="1.1"/>
<polyline points="280.60,205.14 287.8,204.9 284.71,198.40" fill="none" stroke="#4f82c4" stroke-width="1.1" stroke-linecap="round" stroke-linejoin="miter"/>
<line x1="213" y1="224.6" x2="229.5" y2="234.9" stroke="#4f82c4" stroke-width="1.1"/>
<polyline points="222.30,235.06 229.5,234.9 226.48,228.36" fill="none" stroke="#4f82c4" stroke-width="1.1" stroke-linecap="round" stroke-linejoin="miter"/>
<line x1="227.3" y1="263.5" x2="243.4" y2="273.4" stroke="#4f82c4" stroke-width="1.1"/>
<polyline points="236.20,273.61 243.4,273.4 240.34,266.88" fill="none" stroke="#4f82c4" stroke-width="1.1" stroke-linecap="round" stroke-linejoin="miter"/>
<line x1="272" y1="292.2" x2="288" y2="302.5" stroke="#4f82c4" stroke-width="1.1"/>
<polyline points="280.80,302.56 288,302.5 285.07,295.92" fill="none" stroke="#4f82c4" stroke-width="1.1" stroke-linecap="round" stroke-linejoin="miter"/>
<line x1="260.8" y1="382.9" x2="315.7" y2="419.9" stroke="#4f82c4" stroke-width="1.1"/>
<polyline points="308.50,419.81 315.7,419.9 312.91,413.26" fill="none" stroke="#4f82c4" stroke-width="1.1" stroke-linecap="round" stroke-linejoin="miter"/>
<line x1="259.9" y1="392.9" x2="290.8" y2="413.9" stroke="#4f82c4" stroke-width="1.1"/>
<polyline points="283.60,413.78 290.8,413.9 288.04,407.25" fill="none" stroke="#4f82c4" stroke-width="1.1" stroke-linecap="round" stroke-linejoin="miter"/>
<text x="163.9" y="72.9" font-size="9.85" font-weight="bold" text-anchor="start" fill="#000" stroke="#000" stroke-width="0.3">(<tspan font-style="italic">S</tspan>)-2-methylbutyric acid</text>
<text x="175.6" y="104.5" font-size="9.85" font-weight="bold" text-anchor="start" fill="#000" stroke="#000" stroke-width="0.3">Isovaleric acid</text>
<text x="163.7" y="194.4" font-size="9.85" font-weight="bold" text-anchor="start" fill="#000" stroke="#000" stroke-width="0.3">(<tspan font-style="italic">S</tspan>)-2-methylbutyric acid</text>
<text x="175.4" y="219.6" font-size="9.85" font-weight="bold" text-anchor="start" fill="#000" stroke="#000" stroke-width="0.3">Isovaleric acid</text>
<text x="190.9" y="258" font-size="9.85" font-weight="bold" text-anchor="start" fill="#000" stroke="#000" stroke-width="0.3">Isovaleric acid</text>
<text x="163.5" y="291.4" font-size="9.85" font-weight="bold" text-anchor="start" fill="#000" stroke="#000" stroke-width="0.3">(<tspan font-style="italic">S</tspan>)-2-methylbutyric acid</text>
<text x="187.9" y="384.2" font-size="9.85" font-weight="bold" text-anchor="start" fill="#000" stroke="#000" stroke-width="0.3">Unrelated peak</text>
<text x="145.2" y="397.2" font-size="9.85" font-weight="bold" text-anchor="start" fill="#000" stroke="#000" stroke-width="0.3">(<tspan font-style="italic">S</tspan>)-2-methylbutyric acid</text>
<text x="138.5" y="11.7" font-size="9.9" font-weight="bold" text-anchor="start" fill="#000" stroke="#000" stroke-width="0.3">(<tspan font-style="italic">R</tspan>)-2-methylbutyric acid</text>
<text x="138.5" y="28.1" font-size="9.9" font-weight="bold" text-anchor="start" fill="#000" stroke="#000" stroke-width="0.3">(<tspan font-style="italic">S</tspan>)-2-methylbutyric acid</text>
<rect x="131.1" y="61.4" width="2.8" height="190" fill="#000"/>
<text x="69" y="150.2" font-size="11.4" font-weight="bold" text-anchor="middle" fill="#000" stroke="#000" stroke-width="0.3">VOCs</text>
<text x="69" y="163.7" font-size="11.4" font-weight="bold" text-anchor="middle" fill="#000" stroke="#000" stroke-width="0.3">Crude extract</text>
<text x="69" y="287.2" font-size="11.4" font-weight="bold" text-anchor="middle" fill="#000" stroke="#000" stroke-width="0.3">VOCs trapped by</text>
<text x="69" y="300.4" font-size="11.4" font-weight="bold" text-anchor="middle" fill="#000" stroke="#000" stroke-width="0.3">Sodium bicarbonate</text>
<text x="69" y="387.5" font-size="11.4" font-weight="bold" text-anchor="middle" fill="#000" stroke="#000" stroke-width="0.3">No <tspan font-style="italic">Bacillus</tspan> CTL</text>
<text x="69" y="460.6" font-size="11.4" font-weight="bold" text-anchor="middle" fill="#000" stroke="#000" stroke-width="0.3">(<tspan font-style="italic">R</tspan>)-2-methylbutyric acid</text>
<text x="69" y="475.0" font-size="11.4" font-weight="bold" text-anchor="middle" fill="#000" stroke="#000" stroke-width="0.3">(standard)</text>
<text x="69" y="505.3" font-size="11.4" font-weight="bold" text-anchor="middle" fill="#000" stroke="#000" stroke-width="0.3">(<tspan font-style="italic">S</tspan>)-2-methylbutyric acid</text>
<text x="69" y="519.2" font-size="11.4" font-weight="bold" text-anchor="middle" fill="#000" stroke="#000" stroke-width="0.3">(standard)</text>
<text x="475.5" y="109.1" font-size="11" font-weight="bold" text-anchor="middle" fill="#000" stroke="#000" stroke-width="0.3">TIC</text>
<text x="476" y="172.6" font-size="11" font-weight="bold" text-anchor="middle" fill="#000" stroke="#000" stroke-width="0.3"><tspan font-style="italic">m/z</tspan> = 60</text>
<text x="476" y="200.4" font-size="11" font-weight="bold" text-anchor="middle" fill="#000" stroke="#000" stroke-width="0.3"><tspan font-style="italic">m/z</tspan> = 87</text>
<text x="476" y="229" font-size="11" font-weight="bold" text-anchor="middle" fill="#000" stroke="#000" stroke-width="0.3"><tspan font-style="italic">m/z</tspan> = 57</text>
<text x="476" y="267.7" font-size="11" font-weight="bold" text-anchor="middle" fill="#000" stroke="#000" stroke-width="0.3"><tspan font-style="italic">m/z</tspan> = 60</text>
<text x="476" y="295.4" font-size="11" font-weight="bold" text-anchor="middle" fill="#000" stroke="#000" stroke-width="0.3"><tspan font-style="italic">m/z</tspan> = 87</text>
<text x="476" y="324.4" font-size="11" font-weight="bold" text-anchor="middle" fill="#000" stroke="#000" stroke-width="0.3"><tspan font-style="italic">m/z</tspan> = 57</text>
<text x="475.5" y="391.8" font-size="11" font-weight="bold" text-anchor="middle" fill="#000" stroke="#000" stroke-width="0.3">TIC</text>
<text x="475.5" y="466.3" font-size="11" font-weight="bold" text-anchor="middle" fill="#000" stroke="#000" stroke-width="0.3">TIC</text>
<text x="475.5" y="509.9" font-size="11" font-weight="bold" text-anchor="middle" fill="#000" stroke="#000" stroke-width="0.3">TIC</text>
</svg>
</body></html>
